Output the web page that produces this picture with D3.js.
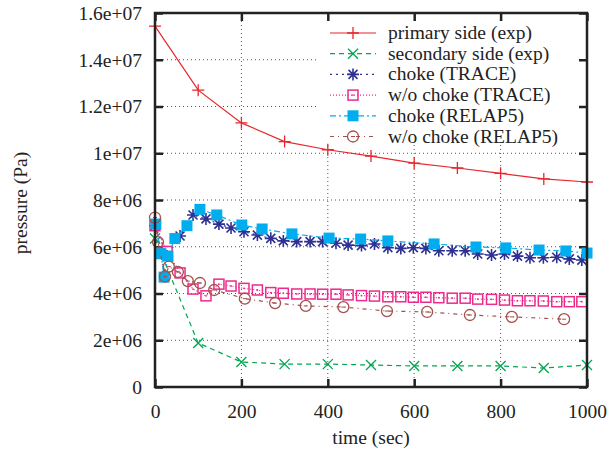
<!DOCTYPE html>
<html>

<head>
    <meta charset="utf-8">
    <title>pressure vs time</title>
    <script src="https://cdn.jsdelivr.net/npm/d3@7"></script>
</head>

<body style="margin:0">
    <script>
        // Series data (time in s, pressure in Pa)
        const primaryTime = [0, 100, 200, 300, 400, 500, 600, 700, 800, 900, 1000];
        const primaryP = [15.44e6, 12.7e6, 11.3e6, 10.5e6, 10.15e6, 9.88e6, 9.58e6, 9.37e6, 9.14e6, 8.9e6, 8.77e6];

        const secondaryTime = [0, 100, 200, 300, 400, 500, 600, 700, 800, 900, 1000];
        const secondaryP = [6.35e6, 1.88e6, 1.07e6, 0.98e6, 0.98e6, 0.94e6, 0.9e6, 0.9e6, 0.9e6, 0.81e6, 0.94e6];

        const traceTime = [0, 28, 58, 88, 118, 148, 176, 206, 237, 268, 297, 328, 359, 388, 419, 447, 478, 508,
            539, 569, 598, 627, 657, 688, 718, 747, 779, 809, 839, 868, 899, 930, 959, 988];
        const traceChokeP = [6.9e6, 5.6e6, 6.46e6, 7.36e6, 7.19e6, 6.97e6, 6.8e6, 6.64e6, 6.5e6, 6.36e6, 6.25e6,
            6.22e6, 6.22e6, 6.22e6, 6.15e6, 6.07e6, 6.05e6, 6.12e6, 5.96e6, 5.93e6, 5.96e6, 5.93e6, 5.83e6, 5.83e6,
            5.83e6, 5.69e6, 5.65e6, 5.69e6, 5.6e6, 5.53e6, 5.53e6, 5.55e6, 5.48e6, 5.43e6];
        const traceNoChokeP = [6.9e6, 5.8e6, 4.88e6, 4.19e6, 3.9e6, 4.4e6, 4.32e6, 4.22e6, 4.15e6, 4.04e6, 4.01e6,
            3.98e6, 3.98e6, 3.97e6, 3.97e6, 3.94e6, 3.91e6, 3.89e6, 3.86e6, 3.86e6, 3.84e6, 3.84e6, 3.82e6, 3.8e6,
            3.8e6, 3.76e6, 3.75e6, 3.72e6, 3.69e6, 3.69e6, 3.68e6, 3.65e6, 3.65e6, 3.65e6];

        const relapChokeTime = [2, 14, 21, 30, 46, 74, 104, 143, 201, 248, 317, 403, 476, 539, 646, 743, 812, 889, 951, 1000];
        const relapChokeP = [6.97e6, 5.7e6, 4.7e6, 5.6e6, 6.35e6, 6.9e6, 7.6e6, 7.36e6, 6.93e6, 6.76e6, 6.55e6,
            6.37e6, 6.33e6, 6.25e6, 6.12e6, 5.99e6, 5.95e6, 5.86e6, 5.82e6, 5.73e6];

        const relapNoChokeTime = [0, 7, 23, 32, 53, 76, 104, 137, 208, 278, 349, 436, 537, 630, 729, 826, 947];
        const relapNoChokeP = [7.25e6, 6.2e6, 4.72e6, 5.15e6, 4.92e6, 4.53e6, 4.45e6, 4.15e6, 3.78e6, 3.59e6,
            3.47e6, 3.42e6, 3.25e6, 3.21e6, 3.08e6, 3.0e6, 2.9e6];

        const xTicks = [0, 200, 400, 600, 800, 1000];
        const yTicks = [0, 2e6, 4e6, 6e6, 8e6, 1e7, 1.2e7, 1.4e7, 1.6e7];
        const yTickLabels = ['0', '2e+06', '4e+06', '6e+06', '8e+06', '1e+07', '1.2e+07', '1.4e+07', '1.6e+07'];

        const series = [
            { name: 'primary side (exp)', t: primaryTime, p: primaryP, color: '#e8262b', dash: null, mark: 'plus' },
            { name: 'secondary side (exp)', t: secondaryTime, p: secondaryP, color: '#00a651', dash: '5,4', mark: 'cross' },
            { name: 'choke (TRACE)', t: traceTime, p: traceChokeP, color: '#2e3192', dash: '2,4', mark: 'star' },
            { name: 'w/o choke (TRACE)', t: traceTime, p: traceNoChokeP, color: '#ec2b8c', dash: '1,2', mark: 'square' },
            { name: 'choke (RELAP5)', t: relapChokeTime, p: relapChokeP, color: '#00aeef', dash: '6,3,2,3', mark: 'fsquare' },
            { name: 'w/o choke (RELAP5)', t: relapNoChokeTime, p: relapNoChokeP, color: '#a3514d', dash: '4,4,1,4', mark: 'circle' }
        ];

        const W = 613, H = 452;
        const margin = { top: 13, right: 26, bottom: 65, left: 155 };
        const width = W - margin.left - margin.right;
        const height = H - margin.top - margin.bottom;

        const svg = d3.select('body').append('svg')
            .attr('width', W)
            .attr('height', H);
        const g = svg.append('g')
            .attr('transform', `translate(${margin.left}, ${margin.top})`);

        const x = d3.scaleLinear().domain([0, 1000]).range([0, width]);
        const y = d3.scaleLinear().domain([0, 1.6e7]).range([height, 0]);

        // dotted grid
        g.append('g').selectAll('line').data(xTicks.slice(1, -1)).join('line')
            .attr('x1', d => x(d)).attr('x2', d => x(d))
            .attr('y1', 0).attr('y2', height)
            .attr('stroke', '#555').attr('stroke-width', 1).attr('stroke-dasharray', '1,3');
        g.append('g').selectAll('line').data(yTicks.slice(1, -1)).join('line')
            .attr('x1', 0).attr('x2', width)
            .attr('y1', d => y(d)).attr('y2', d => y(d))
            .attr('stroke', '#555').attr('stroke-width', 1).attr('stroke-dasharray', '1,3');

        // legend background hides grid
        const legX = 163, legY = 1;
        g.append('rect')
            .attr('x', legX).attr('y', legY)
            .attr('width', width - legX - 2).attr('height', 131)
            .attr('fill', '#fff');

        // axes with inward ticks
        const tickLen = 8;
        g.append('g')
            .attr('transform', `translate(0, ${height})`)
            .call(d3.axisBottom(x).tickValues(xTicks).tickSize(-tickLen).tickPadding(tickLen + 9)
                .tickFormat(d3.format('d')))
            .call(a => a.select('.domain').remove());
        g.append('g')
            .call(d3.axisTop(x).tickValues(xTicks).tickSize(-tickLen).tickFormat(''))
            .call(a => a.select('.domain').remove());
        g.append('g')
            .call(d3.axisLeft(y).tickValues(yTicks).tickSize(-tickLen).tickPadding(tickLen + 5)
                .tickFormat((d, i) => yTickLabels[i]))
            .call(a => a.select('.domain').remove());
        g.append('g')
            .attr('transform', `translate(${width}, 0)`)
            .call(d3.axisRight(y).tickValues(yTicks).tickSize(-tickLen).tickFormat(''))
            .call(a => a.select('.domain').remove());
        g.selectAll('.tick line').attr('stroke', '#222').attr('stroke-width', 2.5);

        // markers
        function drawMark(sel, type, color) {
            if (type === 'plus') {
                sel.append('path').attr('d', 'M-6,0H6M0,-6V6')
                    .attr('stroke', color).attr('stroke-width', 1.3).attr('fill', 'none');
            } else if (type === 'cross') {
                sel.append('path').attr('d', 'M-5,-5L5,5M-5,5L5,-5')
                    .attr('stroke', color).attr('stroke-width', 1.3).attr('fill', 'none');
            } else if (type === 'star') {
                sel.append('path').attr('d', 'M-6,0H6M0,-6V6M-4.5,-4.5L4.5,4.5M-4.5,4.5L4.5,-4.5')
                    .attr('stroke', color).attr('stroke-width', 1.6).attr('fill', 'none');
            } else if (type === 'square') {
                sel.append('rect').attr('x', -5).attr('y', -5).attr('width', 10).attr('height', 10)
                    .attr('stroke', color).attr('stroke-width', 1.5).attr('fill', 'none');
                sel.append('circle').attr('r', 0.9).attr('fill', color);
            } else if (type === 'fsquare') {
                sel.append('rect').attr('x', -5.5).attr('y', -5.5).attr('width', 11).attr('height', 11)
                    .attr('fill', color);
            } else if (type === 'circle') {
                sel.append('circle').attr('r', 5.5)
                    .attr('stroke', color).attr('stroke-width', 1.3).attr('fill', 'none');
                sel.append('path').attr('d', 'M-2,0H2').attr('stroke', color).attr('stroke-width', 1);
            }
        }

        const line = d3.line().x(d => x(d[0])).y(d => y(d[1]));

        series.forEach(s => {
            const pts = s.t.map((t, i) => [t, s.p[i]]);
            g.append('path')
                .datum(pts)
                .attr('d', line)
                .attr('fill', 'none')
                .attr('stroke', s.color)
                .attr('stroke-width', 1.2)
                .attr('stroke-dasharray', s.dash);
            g.append('g').selectAll('g').data(pts).join('g')
                .attr('transform', d => `translate(${x(d[0])}, ${y(d[1])})`)
                .each(function () { drawMark(d3.select(this), s.mark, s.color); });
        });

        // legend
        series.forEach((s, i) => {
            const cy = 20 + i * 20.7;
            g.append('line')
                .attr('x1', 175).attr('x2', 221)
                .attr('y1', cy).attr('y2', cy)
                .attr('stroke', s.color).attr('stroke-width', 1.2)
                .attr('stroke-dasharray', s.dash);
            drawMark(g.append('g').attr('transform', `translate(198, ${cy})`), s.mark, s.color);
            g.append('text')
                .attr('x', 233).attr('y', cy + 6)
                .text(s.name);
        });

        // frame
        g.append('rect')
            .attr('width', width).attr('height', height)
            .attr('fill', 'none').attr('stroke', '#222').attr('stroke-width', 2.5);

        // axis titles
        svg.append('text')
            .attr('x', margin.left + width / 2)
            .attr('y', 444)
            .attr('text-anchor', 'middle')
            .text('time (sec)');
        svg.append('text')
            .attr('transform', `translate(27, 203) rotate(-90)`)
            .attr('text-anchor', 'middle')
            .text('pressure (Pa)');

        // one serif font for every text
        svg.selectAll('text')
            .style('font-family', 'Liberation Serif')
            .style('font-size', '19.5px')
            .style('fill', '#222');
    </script>
</body>

</html>
